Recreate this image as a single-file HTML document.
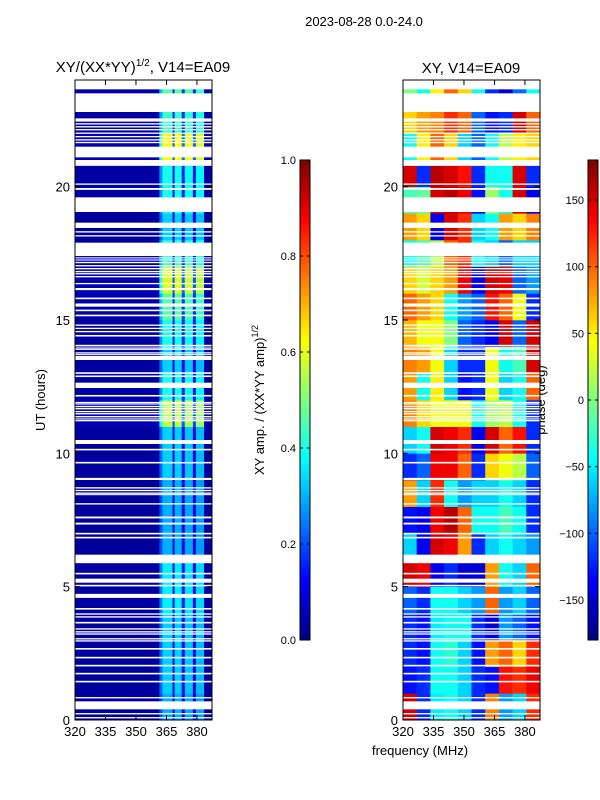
<!DOCTYPE html>
<html><head><meta charset="utf-8">
<style>
body{margin:0;background:#fff;}
svg{display:block;font-family:"Liberation Sans",sans-serif;}
</style></head>
<body>
<svg id="fig" width="600" height="800" viewBox="0 0 600 800" xmlns="http://www.w3.org/2000/svg">
<text x="364" y="26" font-size="13" text-anchor="middle">2023-08-28 0.0-24.0</text>
<text x="143" y="72" font-size="15" text-anchor="middle">XY/(XX*YY)<tspan font-size="10" dy="-6">1/2</tspan><tspan dy="6">, V14=EA09</tspan></text>
<text x="471" y="73" font-size="15" text-anchor="middle">XY, V14=EA09</text>
<text transform="translate(45,400) rotate(-90)" font-size="13" text-anchor="middle">UT (hours)</text>
<text x="420" y="755" font-size="13" text-anchor="middle">frequency (MHz)</text>
<text transform="translate(264,400) rotate(-90)" font-size="13" text-anchor="middle">XY amp. / (XX*YY amp)<tspan font-size="9" dy="-6">1/2</tspan></text>
<text transform="translate(545,400) rotate(-90)" font-size="13" text-anchor="middle">phase (deg)</text>
<g id="ampPanel"></g>
<g id="phasePanel"></g>
<g id="axes"></g>
</svg>
<script>
// ---- data ----
const yTicks = [0,5,10,15,20];
const xTicks = [320,335,350,365,380];
const ampCbTicks = [0.0,0.2,0.4,0.6,0.8,1.0];
const phCbTicks = [-150,-100,-50,0,50,100,150];
// amplitude: frequency segment edges (MHz) and base value per segment
const ampSegEdges = [320,361.5,363,368,369,372.5,374,378,379.5,383.5,387.4];
const ampSegVals  = [0.03,0.22,0.33,0.12,0.33,0.13,0.32,0.12,0.31,0.03];
// hourly amplitude factor (hour 0..23)
const ampRowFactor = [0.9,1.0,1.0,1.0,1.1,1.1,0.9,0.9,0.9,1.0,1.0,1.7,1.2,1.0,1.2,1.4,1.8,1.3,1.0,1.2,1.2,1.9,1.3,1.4];
// phase grid: hour 0..23 rows, 10 frequency columns (deg)
const phaseGrid = [
 [150,-120,-50,-40,-60,-120,90,-80,-60,120],
 [-130,-120,-40,-40,-60,-120,-130,130,120,140],
 [-120,-130,-40,-30,-60,-130,80,100,60,120],
 [-120,-130,-50,-40,-40,-120,-150,-80,-100,-130],
 [-100,-120,-40,-40,-60,-80,100,-80,-60,-100],
 [150,140,-140,-120,-150,-150,80,-40,-60,100],
 [-60,-140,150,140,80,-120,-60,-40,-60,-80],
 [-130,-140,140,160,100,-40,-40,-20,-40,-120],
 [80,-60,120,-40,-80,-60,-60,-40,-60,-120],
 [-120,-100,140,140,100,-120,60,40,20,-100],
 [-60,-40,150,140,120,-140,150,100,130,-120],
 [90,60,40,40,40,-40,10,20,-40,-120],
 [80,-40,50,-60,-130,-120,40,-60,-40,100],
 [90,80,40,-60,-120,-120,40,-40,-20,150],
 [70,40,40,0,-100,-120,-140,150,-100,150],
 [100,80,60,-40,-80,-100,130,100,40,-120],
 [60,30,60,80,140,-140,150,140,-100,-80],
 [-40,-20,20,100,120,-40,-60,-100,-60,-60],
 [80,60,-140,150,120,-60,-40,80,60,90],
 [-20,-10,150,160,140,-130,10,-40,150,-140],
 [150,-120,160,150,130,-120,-40,-40,150,-120],
 [-40,50,100,60,-60,-100,-40,20,50,60],
 [60,80,90,120,100,-100,-130,-120,150,100],
 [0,-40,50,100,60,-40,-120,-150,-100,-40]
];
// flagged (blank) time intervals [start hour, end hour]
const flagStarts = [23.65,22.8,22.44,22.33,22.22,22.11,21.98,21.85,21.73,21.63,21.1,20.78,20.07,19.88,19.05,18.45,18.28,18.13,17.4,17.31,17.23,17.13,17.01,16.9,16.79,16.71,16.6,16.34,16.12,15.78,15.5,15.33,15.14,14.78,14.66,14.54,14.38,14.01,13.93,13.88,13.74,13.68,13.5,12.98,12.86,12.45,12.13,11.88,11.83,11.73,11.65,11.54,11.46,11.35,11.27,11.2,10.35,10.11,9.62,9.0,8.68,8.58,8.48,8.43,8.08,7.56,7.33,6.96,6.81,5.88,5.46,5.15,5.01,4.58,4.14,3.95,3.84,3.62,3.39,3.28,3.2,3.02,2.94,2.64,2.31,2.01,1.71,1.41,0.81,0.4,0.21,0.06];
const flagEnds   = [24.0,23.5,22.56,22.38,22.27,22.16,22.03,21.9,21.78,21.68,21.5,21.0,20.12,19.95,19.6,18.65,18.33,18.18,17.9,17.35,17.27,17.18,17.06,16.95,16.84,16.76,16.65,16.39,16.2,15.84,15.62,15.39,15.2,14.83,14.71,14.59,14.44,14.07,13.97,13.92,13.79,13.72,13.65,13.04,12.92,12.65,12.19,11.93,11.87,11.78,11.7,11.59,11.51,11.4,11.31,11.25,10.5,10.17,9.68,9.08,8.73,8.63,8.53,8.47,8.13,7.63,7.4,7.02,6.87,6.2,5.52,5.3,5.07,4.73,4.2,4.0,3.89,3.68,3.44,3.33,3.25,3.07,2.99,2.7,2.37,2.07,1.77,1.47,0.86,0.7,0.26,0.11];

// ---- layout helpers ----
const NS="http://www.w3.org/2000/svg";
const PY0=80, PY1=720, FMIN=320, FMAX=387.4;
const panels=[{x0:75,x1:212},{x0:403,x1:540}];
function yOf(h){return PY1-(h/24)*(PY1-PY0);}
function xOf(p,f){return p.x0+(f-FMIN)/(FMAX-FMIN)*(p.x1-p.x0);}
function jet(v){v=Math.max(0,Math.min(1,v));
 const r=Math.max(0,Math.min(1,1.5-Math.abs(4*v-3)));
 const g=Math.max(0,Math.min(1,1.5-Math.abs(4*v-2)));
 const b=Math.max(0,Math.min(1,1.5-Math.abs(4*v-1)));
 return `rgb(${Math.round(r*255)},${Math.round(g*255)},${Math.round(b*255)})`;}
function mk(tag,attrs,parent){const e=document.createElementNS(NS,tag);for(const k in attrs)e.setAttribute(k,attrs[k]);parent.appendChild(e);return e;}
const svg=document.getElementById('fig');

// ---- amplitude panel ----
const ampG=document.getElementById('ampPanel');
for(let h=0;h<24;h++){
 for(let s=0;s<ampSegVals.length;s++){
  const p=panels[0];
  const r=mk('rect',{x:xOf(p,ampSegEdges[s]),y:yOf(h+1),width:xOf(p,ampSegEdges[s+1])-xOf(p,ampSegEdges[s])+0.3,height:yOf(h)-yOf(h+1)+0.3,fill:jet(ampSegVals[s]*ampRowFactor[h])},ampG);
  
  
 }
}
// ---- phase panel ----
const phG=document.getElementById('phasePanel');
const nCols=phaseGrid[0].length;
for(let h=0;h<24;h++){
 for(let c=0;c<nCols;c++){
  const p=panels[1];
  const f0=FMIN+(FMAX-FMIN)*c/nCols, f1=FMIN+(FMAX-FMIN)*(c+1)/nCols;
  const r=mk('rect',{x:xOf(p,f0),y:yOf(h+1),width:xOf(p,f1)-xOf(p,f0)+0.3,height:yOf(h)-yOf(h+1)+0.3,fill:jet((phaseGrid[h][c]+180)/360)},phG);
  
  
 }
}
// ---- flags ----
for(const p of panels){
 const g=p===panels[0]?ampG:phG;
 for(let i=0;i<flagStarts.length;i++){
  const r=mk('rect',{x:p.x0,y:yOf(flagEnds[i]),width:p.x1-p.x0,height:yOf(flagStarts[i])-yOf(flagEnds[i]),fill:'#fff'},g);
  
  
 }
}
// ---- axes ----
const ax=document.getElementById('axes');
panels.forEach((p,pi)=>{
 const fr=mk('rect',{x:p.x0,y:PY0,width:p.x1-p.x0,height:PY1-PY0,fill:'none',stroke:'#000','stroke-width':1},ax);
 
 
 xTicks.forEach(t=>{const x=xOf(p,t);
  mk('line',{x1:x,y1:PY1,x2:x,y2:PY1-5,stroke:'#000'},ax);
  mk('line',{x1:x,y1:PY0,x2:x,y2:PY0+5,stroke:'#000'},ax);
  const tx=mk('text',{x:x,y:PY1+16,'font-size':13,'text-anchor':'middle'},ax);tx.textContent=t;
  
  
 });
 yTicks.forEach(t=>{const y=yOf(t);
  mk('line',{x1:p.x0,y1:y,x2:p.x0+5,y2:y,stroke:'#000'},ax);
  mk('line',{x1:p.x1,y1:y,x2:p.x1-5,y2:y,stroke:'#000'},ax);
  const tx=mk('text',{x:p.x0-5,y:y+5,'font-size':13,'text-anchor':'end'},ax);tx.textContent=t;
  
  
 });
});
// ---- colorbars ----
const cbs=[{x:300,min:0,max:1,ticks:ampCbTicks,fmt:v=>v.toFixed(1),name:'amp-colorbar'},
           {x:588,min:-180,max:180,ticks:phCbTicks,fmt:v=>v<0?'\u2212'+(-v):''+v,name:'phase-colorbar'}];
const CY0=160,CY1=640,N=120;
cbs.forEach(cb=>{
 const g=mk('g',{},svg);
 
 
 for(let i=0;i<N;i++){
  mk('rect',{x:cb.x,y:CY1-(i+1)*(CY1-CY0)/N,width:10,height:(CY1-CY0)/N+0.5,fill:jet((i+0.5)/N)},g);
 }
 mk('rect',{x:cb.x,y:CY0,width:10,height:CY1-CY0,fill:'none',stroke:'#000','stroke-width':1},g);
 cb.ticks.forEach(t=>{const y=CY1-(t-cb.min)/(cb.max-cb.min)*(CY1-CY0);
  mk('line',{x1:cb.x,y1:y,x2:cb.x+3,y2:y,stroke:'#000'},g);
  mk('line',{x1:cb.x+10,y1:y,x2:cb.x+7,y2:y,stroke:'#000'},g);
  const tx=mk('text',{x:cb.x-4,y:y+4,'font-size':11,'text-anchor':'end'},g);tx.textContent=cb.fmt(t);
  
  
 });
});
</script>
</body></html>
